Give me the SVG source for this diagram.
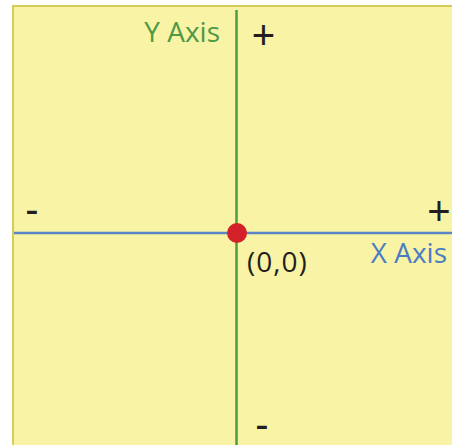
<svg xmlns="http://www.w3.org/2000/svg" width="452" height="445" viewBox="0 0 452 445">
<style>
.lbl{font-family:"Open Sans","Liberation Sans",sans-serif;font-size:28px}
.sign{font-family:"Liberation Sans",sans-serif;font-size:40px;fill:#231f20}
</style>
<rect x="0" y="0" width="452" height="445" fill="#ffffff"/>
<rect x="13" y="6" width="445" height="445" fill="#f9f3a5" stroke="#d5cc57" stroke-width="2"/>
<g id="connectors">
<line x1="236.5" y1="10" x2="236.5" y2="445" stroke="#4e9a45" stroke-width="2.5"/>
<line x1="14" y1="233" x2="452" y2="233" stroke="#5b85c4" stroke-width="2.5"/>
</g>
<g id="origin">
<circle cx="237" cy="233" r="10" fill="#d22129"/>
<text class="lbl" x="247" y="272" fill="#231f20" letter-spacing="1">(0,0)</text>
</g>
<g id="yaxis-label"><text class="lbl" x="220" y="42" text-anchor="end" fill="#4e9a45">Y Axis</text></g>
<g id="xaxis-label"><text class="lbl" x="447" y="263" text-anchor="end" fill="#4a7cc4">X Axis</text></g>
<g id="y-plus"><text class="sign" x="263.5" y="49" text-anchor="middle">+</text></g>
<g id="x-plus"><text class="sign" x="439" y="225" text-anchor="middle">+</text></g>
<g id="x-minus"><text class="sign" x="32" y="223" text-anchor="middle">-</text></g>
<g id="y-minus"><text class="sign" x="262" y="438" text-anchor="middle">-</text></g>
</svg>
